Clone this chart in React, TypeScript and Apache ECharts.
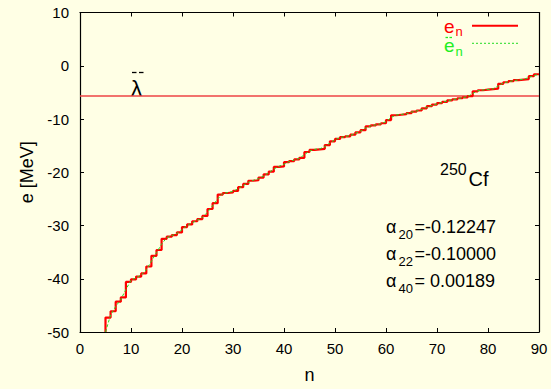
import { useEffect, useRef } from "react";
import * as echarts from "echarts";

// level index n starts at 5 (lowest visible level)
const N_FIRST = 5;

// e_n step values (MeV) for n = 5 .. 90
const E_STEP = [
  -47.3, -46.1, -44.3, -43.5, -40.6, -40.1, -39.6, -39.0, -37.7, -35.7,
  -34.6, -32.5, -32.1, -31.8, -31.3, -30.3, -29.8, -29.2, -28.8, -28.2,
  -26.9, -25.8, -24.2, -23.9, -23.8, -23.5, -22.8, -22.2, -21.6, -21.5,
  -21.0, -20.4, -19.9, -19.0, -18.9, -18.1, -17.9, -17.6, -17.3, -16.2,
  -15.8, -15.7, -15.6, -14.9, -14.2, -13.75, -13.4, -13.25, -12.95, -12.5,
  -12.1, -11.4, -11.2, -11.0, -10.8, -10.2, -9.3, -9.2, -9.1, -8.9,
  -8.6, -8.4, -8.0, -7.6, -7.3, -7.0, -6.8, -6.5, -6.3, -6.1,
  -5.95, -5.7, -4.8, -4.6, -4.5, -4.4, -4.3, -3.4, -3.1, -2.9,
  -2.7, -2.6, -2.5, -1.95, -1.6, -1.6,
];

// smoothed ~e_n values (MeV) for n = 5 .. 90
const E_SMOOTH = [
  -50.0, -46.8, -45.2, -43.9, -42.0, -40.3, -39.8, -39.3, -38.3, -36.7,
  -35.1, -33.5, -32.3, -31.9, -31.5, -30.8, -30.0, -29.5, -29.0, -28.5,
  -27.5, -26.3, -25.0, -24.0, -23.8, -23.6, -23.1, -22.5, -21.9, -21.5,
  -21.2, -20.7, -20.1, -19.4, -18.9, -18.5, -18.0, -17.7, -17.4, -16.7,
  -16.0, -15.7, -15.6, -15.2, -14.5, -13.9, -13.5, -13.3, -13.1, -12.7,
  -12.3, -11.7, -11.3, -11.1, -10.9, -10.5, -9.7, -9.25, -9.15, -9.0,
  -8.7, -8.5, -8.2, -7.8, -7.45, -7.15, -6.9, -6.6, -6.4, -6.2,
  -6.0, -5.8, -5.2, -4.7, -4.55, -4.45, -4.35, -3.8, -3.25, -3.0,
  -2.8, -2.65, -2.55, -2.2, -1.85, -1.6,
];

const LAMBDA = -5.7;
const X_RANGE = [0, 90];
const Y_RANGE = [-50, 10];
const TICK_STEP = 10;

const ALPHAS = [
  { sub: "20", val: "=-0.12247" },
  { sub: "22", val: "=-0.10000" },
  { sub: "40", val: "= 0.00189" },
];

const FONT = "'Liberation Sans', Arial, Helvetica, sans-serif";

export default function App() {
  const ref = useRef<HTMLDivElement>(null);

  useEffect(() => {
    if (!ref.current) return;
    const chart = echarts.init(ref.current, undefined, { renderer: "svg" });

    const stepData: number[][] = [[N_FIRST, Y_RANGE[0]]];
    E_STEP.forEach((v, i) => stepData.push([N_FIRST + i, v]));
    const smoothData = E_SMOOTH.map((v, i) => [N_FIRST + i, v]);
    const lambdaData = [
      [X_RANGE[0], LAMBDA],
      [X_RANGE[1], LAMBDA],
    ];

    const axisCommon = {
      type: "value" as const,
      interval: TICK_STEP,
      axisLine: { show: true, onZero: false, lineStyle: { color: "#000", width: 1.2 } },
      axisTick: { show: true, inside: true, length: 4, lineStyle: { color: "#000", width: 1 } },
      splitLine: { show: false },
    };

    const alphaGraphics: any[] = [];
    ALPHAS.forEach((a, i) => {
      const cy = 227 + i * 27;
      alphaGraphics.push(
        {
          type: "text",
          x: 386,
          y: cy,
          style: { text: "α", font: `18px ${FONT}`, fill: "#000", verticalAlign: "middle" },
        },
        {
          type: "text",
          x: 398.5,
          y: cy + 7,
          style: { text: a.sub, font: `13px ${FONT}`, fill: "#000", verticalAlign: "middle" },
        },
        {
          type: "text",
          x: 414.5,
          y: cy,
          style: { text: a.val, font: `18px ${FONT}`, fill: "#000", verticalAlign: "middle" },
        }
      );
    });

    chart.setOption({
      animation: false,
      backgroundColor: "#ffffe5",
      textStyle: { fontFamily: FONT },
      grid: { left: 80, right: 12, top: 12.5, bottom: 52, containLabel: false },
      xAxis: [
        {
          ...axisCommon,
          min: X_RANGE[0],
          max: X_RANGE[1],
          position: "bottom",
          axisLabel: { color: "#000", fontSize: 15, margin: 9, fontFamily: FONT },
          name: "n",
          nameLocation: "middle",
          nameGap: 34,
          nameTextStyle: { color: "#000", fontSize: 18, fontFamily: FONT },
        },
        {
          ...axisCommon,
          min: X_RANGE[0],
          max: X_RANGE[1],
          position: "top",
          axisLabel: { show: false },
        },
      ],
      yAxis: [
        {
          ...axisCommon,
          min: Y_RANGE[0],
          max: Y_RANGE[1],
          position: "left",
          axisLabel: { color: "#000", fontSize: 15, margin: 11, fontFamily: FONT },
          name: "e [MeV]",
          nameLocation: "middle",
          nameGap: 44,
          nameTextStyle: { color: "#000", fontSize: 18, fontFamily: FONT },
        },
        {
          ...axisCommon,
          min: Y_RANGE[0],
          max: Y_RANGE[1],
          position: "right",
          axisLabel: { show: false },
        },
      ],
      series: [
        {
          name: "lambda",
          type: "line",
          data: lambdaData,
          symbol: "none",
          lineStyle: { color: "#ee4444", width: 1.5 },
          z: 1,
        },
        {
          name: "e_n",
          type: "line",
          step: "end",
          data: stepData,
          symbol: "none",
          lineStyle: { color: "#ff0000", width: 2.2 },
          z: 2,
        },
        {
          name: "e_n smooth",
          type: "line",
          data: smoothData,
          symbol: "none",
          lineStyle: { color: "#22dd22", width: 1, type: [3, 2] },
          z: 3,
        },
      ],
      graphic: [
        // lambda bar label
        {
          type: "text",
          x: 131,
          y: 77,
          style: { text: "λ", font: `22px ${FONT}`, fill: "#000" },
        },
        {
          type: "line",
          shape: { x1: 132, y1: 72.5, x2: 136.5, y2: 72.5 },
          style: { stroke: "#000", lineWidth: 1.3 },
        },
        {
          type: "line",
          shape: { x1: 139, y1: 72.5, x2: 143.5, y2: 72.5 },
          style: { stroke: "#000", lineWidth: 1.3 },
        },
        // legend: e_n
        {
          type: "text",
          x: 444,
          y: 26,
          style: { text: "e", font: `19px ${FONT}`, fill: "#ff0000", verticalAlign: "middle" },
        },
        {
          type: "text",
          x: 455.5,
          y: 31.5,
          style: { text: "n", font: `13px ${FONT}`, fill: "#ff0000", verticalAlign: "middle" },
        },
        {
          type: "line",
          shape: { x1: 472, y1: 25.7, x2: 518, y2: 25.7 },
          style: { stroke: "#ff0000", lineWidth: 2 },
        },
        // legend: ~e_n
        {
          type: "text",
          x: 444,
          y: 45.5,
          style: { text: "e", font: `19px ${FONT}`, fill: "#22ee22", verticalAlign: "middle" },
        },
        {
          type: "line",
          shape: { x1: 445.5, y1: 37.5, x2: 448, y2: 37.5 },
          style: { stroke: "#22ee22", lineWidth: 1.3 },
        },
        {
          type: "line",
          shape: { x1: 449.5, y1: 37.5, x2: 452, y2: 37.5 },
          style: { stroke: "#22ee22", lineWidth: 1.3 },
        },
        {
          type: "text",
          x: 455.5,
          y: 51.5,
          style: { text: "n", font: `13px ${FONT}`, fill: "#22ee22", verticalAlign: "middle" },
        },
        {
          type: "line",
          shape: { x1: 472, y1: 43.3, x2: 518, y2: 43.3 },
          style: { stroke: "#22dd22", lineWidth: 1, lineDash: [2, 2] },
        },
        // nucleus label
        {
          type: "text",
          x: 440,
          y: 169,
          style: { text: "250", font: `16px ${FONT}`, fill: "#000", verticalAlign: "middle" },
        },
        {
          type: "text",
          x: 468.5,
          y: 179,
          style: { text: "Cf", font: `20px ${FONT}`, fill: "#000", verticalAlign: "middle" },
        },
        ...alphaGraphics,
      ],
    });

    return () => chart.dispose();
  }, []);

  return (
    <div
      ref={ref}
      style={{ position: "fixed", left: 0, top: 0, width: 551, height: 389 }}
    />
  );
}
